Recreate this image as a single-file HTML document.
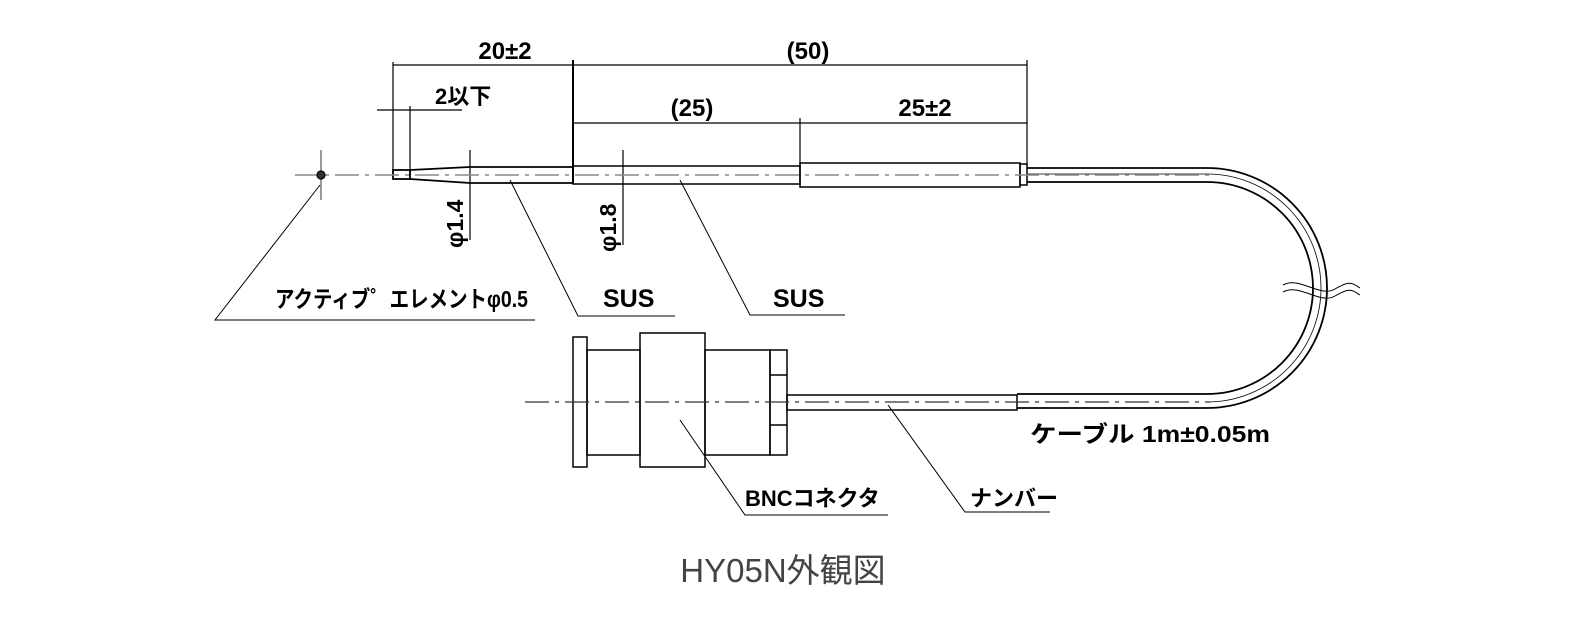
<!DOCTYPE html>
<html><head><meta charset="utf-8"><style>
body{margin:0;background:#fff;}
svg{display:block;}
.t{font-family:"Liberation Sans","Noto Sans CJK JP",sans-serif;font-weight:bold;fill:#000;}
</style></head><body>
<svg width="1574" height="623" viewBox="0 0 1574 623" xmlns="http://www.w3.org/2000/svg">
<g fill="none" stroke="#000" stroke-width="1.2">
<line x1="393" y1="65" x2="1027" y2="65"/>
<line x1="573" y1="123" x2="1027" y2="123"/>
<line x1="377" y1="110" x2="462" y2="110"/>
<line x1="393" y1="62" x2="393" y2="176"/>
<line x1="410" y1="106" x2="410" y2="176"/>
<line x1="573" y1="60" x2="573" y2="184" stroke-width="2"/>
<line x1="800" y1="118" x2="800" y2="164"/>
<line x1="1027" y1="60" x2="1027" y2="165"/>
<line x1="470" y1="150" x2="470" y2="240"/>
<line x1="623" y1="150" x2="623" y2="245"/>
<rect x="393" y="170" width="17" height="9" stroke-width="1.8"/>
<path d="M410 170 L470 167 L573 167 L573 183 L470 183 L410 179" stroke-width="1.8"/>
<rect x="573" y="166" width="227" height="18" stroke-width="1.5"/>
<rect x="800" y="163" width="220" height="24" stroke-width="1.5"/>
<rect x="1020" y="164" width="7" height="21" stroke-width="1.5"/>
<path d="M1027 168 L1207 168 A120 120 0 0 1 1207 408 L1017 408" stroke-width="1.8"/>
<path d="M1027 182 L1207 182 A106 106 0 0 1 1207 394 L1017 394" stroke-width="1.8"/>
<path d="M1027 174 L1207 174 A114 114 0 0 1 1207 402" stroke-width="0.8"/>
<path d="M1283 285 C1300 276,1320 298,1335 289 S1352 283,1360 288" stroke-width="1"/>
<path d="M1283 292 C1300 283,1320 305,1335 296 S1352 290,1360 295" stroke-width="1"/>
<rect x="787" y="395" width="230" height="15" stroke-width="1.5"/>
<rect x="573" y="337" width="14" height="130" stroke-width="1.5"/>
<rect x="587" y="350" width="53" height="105" stroke-width="1.5"/>
<rect x="640" y="333" width="65" height="134" stroke-width="1.5"/>
<rect x="705" y="350" width="65" height="105" stroke-width="1.5"/>
<rect x="770" y="350" width="17" height="105" stroke-width="1.5"/>
<line x1="770" y1="375" x2="787" y2="375" stroke-width="1.5"/>
<line x1="770" y1="425" x2="787" y2="425" stroke-width="1.5"/>
<line x1="295" y1="175" x2="1210" y2="175" stroke="#888" stroke-width="1.5" stroke-dasharray="24 6 4 6"/>
<line x1="525" y1="402" x2="1210" y2="402" stroke="#333" stroke-width="1.2" stroke-dasharray="24 6 4 6"/>
<line x1="321" y1="150" x2="321" y2="200" stroke-width="0.8"/>
<circle cx="321" cy="175" r="4" fill="#333"/>
<polyline points="320,185 215,320 535,320" stroke-width="1"/>
<polyline points="510,180 578,316 675,316" stroke-width="1"/>
<polyline points="680,180 750,315 845,315" stroke-width="1"/>
<polyline points="680,420 745,515 888,515" stroke-width="1"/>
<polyline points="888,405 965,512 1050,512" stroke-width="1"/>
</g>
<g class="t" font-size="24">
<text x="505" y="59" text-anchor="middle">20±2</text>
<text x="808" y="59" text-anchor="middle">(50)</text>
<text x="692" y="116" text-anchor="middle">(25)</text>
<text x="925" y="116" text-anchor="middle">25±2</text>
<text x="435" y="104" font-size="22">2以下</text>
<text x="275" y="307" font-size="23" textLength="253" lengthAdjust="spacingAndGlyphs">アクティブ゜エレメントφ0.5</text>
<text x="603" y="307" font-size="25">SUS</text>
<text x="773" y="307" font-size="25">SUS</text>
<text x="745" y="506" font-size="22">BNCコネクタ</text>
<text x="970" y="506" font-size="22">ナンバー</text>
<text x="1030" y="442" font-size="23" textLength="240" lengthAdjust="spacingAndGlyphs">ケーブル 1m±0.05m</text>
<text transform="translate(463,248) rotate(-90)" font-size="23">φ1.4</text>
<text transform="translate(616,252) rotate(-90)" font-size="23">φ1.8</text>
</g>
<text x="783" y="582" text-anchor="middle" font-family="'Liberation Sans','Noto Sans CJK JP',sans-serif" font-size="33" fill="#444">HY05N外観図</text>
</svg>
</body></html>
